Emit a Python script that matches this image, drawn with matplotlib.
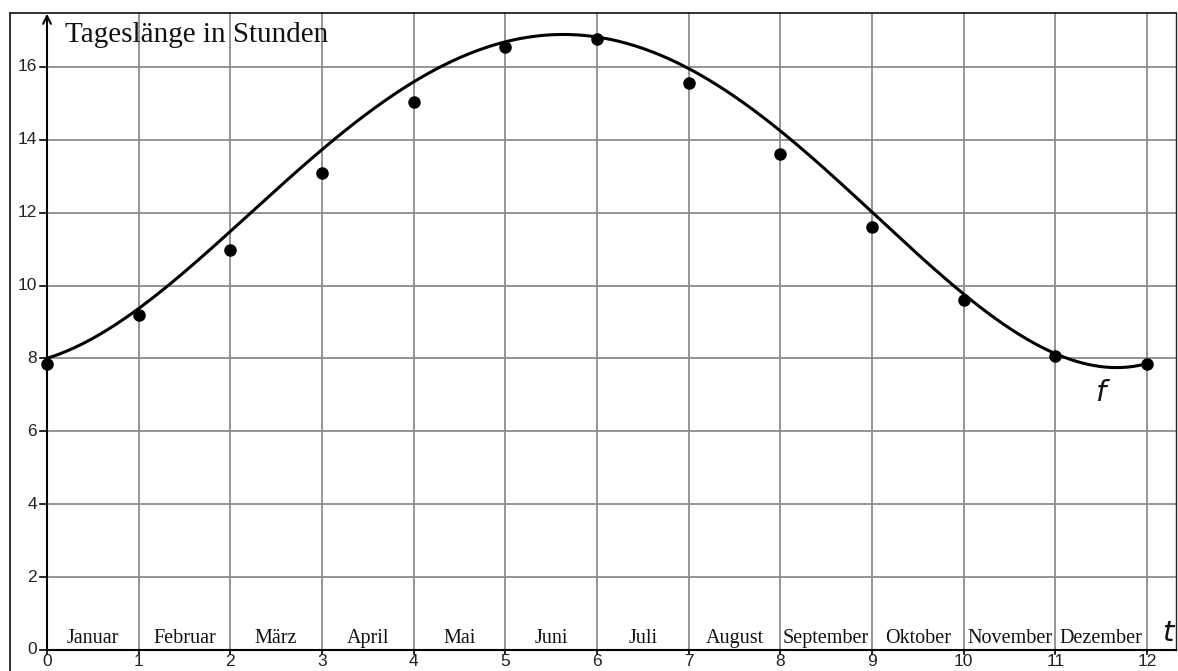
import numpy as np
import matplotlib
matplotlib.use("Agg")
import matplotlib.pyplot as plt

# Data
months = ["Januar", "Februar", "März", "April", "Mai", "Juni", "Juli",
          "August", "September", "Oktober", "November", "Dezember"]
t_points = [0, 1, 2, 3, 4, 5, 6, 7, 8, 9, 10, 11, 12]
hours = [7.86, 9.19, 10.98, 13.08, 15.05, 16.56, 16.77, 15.55, 13.61, 11.62, 9.60, 8.08, 7.86]

# readings of the curve f
f_t = [0, 0.5, 1, 2, 3, 4, 5, 5.6, 6, 7, 8, 9, 10, 11, 11.5, 12]
f_val = [8.0, 8.56, 9.38, 11.48, 13.72, 15.6, 16.69, 16.88, 16.85, 15.96, 14.22, 11.98, 9.85, 8.1, 7.75, 7.88]

x_ticks = list(range(0, 13))
y_ticks = list(range(0, 17, 2))

W, H = 1178, 671
fig = plt.figure(figsize=(W / 100, H / 100), dpi=100)
ax = fig.add_axes([0, 0, 1, 1])
ax.set_axis_off()

# pixel mapping: x=0 at px 47, 91.67 px/unit ; y=0 at px 650 from top, 36.44 px/unit
px_x, x0 = 91.67, 47
px_y, y0 = 36.44, 650
ax.set_xlim(-x0 / px_x, (W - x0) / px_x)
ax.set_ylim(-(H - y0) / px_y, y0 / px_y)

x_right = (1176 - x0) / px_x
y_top = (y0 - 13) / px_y
x_frame_left = (10 - x0) / px_x

grid_c = "#8c8c8c"
for xv in x_ticks[1:]:
    ax.plot([xv, xv], [0, y_top], color=grid_c, lw=1.3, zorder=1)
for yv in y_ticks[1:]:
    ax.plot([0, x_right], [yv, yv], color=grid_c, lw=1.3, zorder=1)

# frame
ax.plot([x_frame_left, x_frame_left], [ax.get_ylim()[0], y_top], color="#222222", lw=1.3, zorder=2)
ax.plot([x_frame_left, x_right], [y_top, y_top], color="#222222", lw=1.3, zorder=2)
ax.plot([x_right, x_right], [y_top, 0], color="#222222", lw=1.0, zorder=2)

# axes
ax.plot([0, x_right], [0, 0], color="black", lw=1.5, zorder=3)
ax.annotate("", xy=(0, y_top - 0.02), xytext=(0, 0),
            arrowprops=dict(arrowstyle="->", color="black", lw=1.5,
                            mutation_scale=14, shrinkA=0, shrinkB=0), zorder=3)

# ticks and tick labels
tick_dx = 7 / px_x
tick_dy = 4 / px_y
for yv in y_ticks:
    ax.plot([-tick_dx, 0], [yv, yv], color="black", lw=1.2, zorder=3)
    ax.text(-10 / px_x, yv, str(yv), ha="right", va="center",
            fontsize=12.5, family="Liberation Sans", color="#222222")
for xv in x_ticks:
    ax.plot([xv, xv], [-tick_dy, 0], color="black", lw=1.2, zorder=3)
    ax.text(xv, -4 / px_y, str(xv), ha="center", va="top",
            fontsize=12.5, family="Liberation Sans", color="#222222")

# month labels
for i, m in enumerate(months):
    ax.text(i + 0.5, 0.2, m, ha="center", va="baseline",
            fontsize=14.5, family="Liberation Serif", color="#111111")

# curve f
coef = np.polyfit(f_t, f_val, 6)
tt = np.linspace(0, 12, 400)
ax.plot(tt, np.polyval(coef, tt), color="black", lw=2.2, zorder=4)

# data points
ax.plot(t_points, hours, "o", color="black", markersize=8, zorder=5)

# texts
ax.text((65 - x0) / px_x, (y0 - 42) / px_y, "Tageslänge in Stunden",
        ha="left", va="baseline", fontsize=21, family="Liberation Serif", color="#111111")
ax.text(11.49, 7.05, "f", ha="center", va="center", fontsize=21,
        family="DejaVu Sans", style="italic", color="#111111")
ax.text((1168 - x0) / px_x, (y0 - 633) / px_y, "t", ha="center", va="center",
        fontsize=21, family="DejaVu Sans", style="italic", color="#111111")

fig.savefig("out.png", dpi=100)
